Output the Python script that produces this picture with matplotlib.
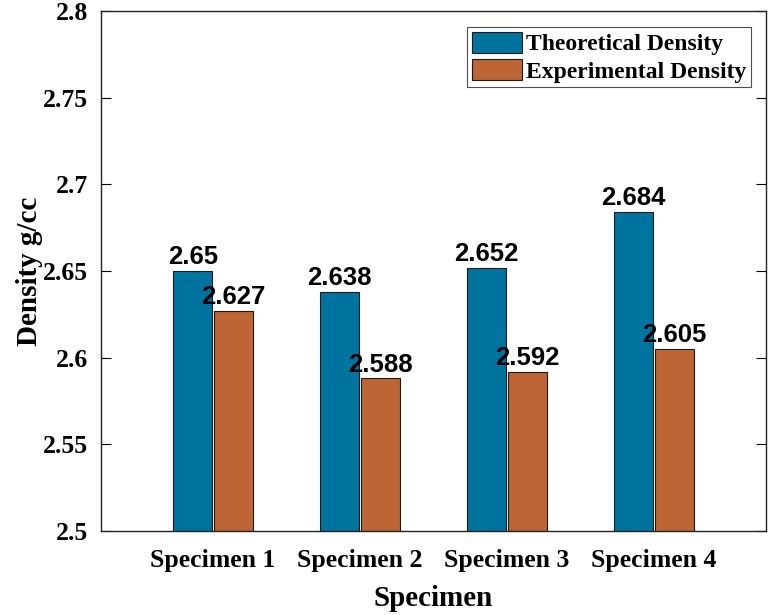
import matplotlib
matplotlib.use("Agg")
import matplotlib.pyplot as plt
import numpy as np

categories = ["Specimen 1", "Specimen 2", "Specimen 3", "Specimen 4"]
theoretical = [2.65, 2.638, 2.652, 2.684]
experimental = [2.627, 2.588, 2.592, 2.605]
series_names = ["Theoretical Density", "Experimental Density"]
y_ticks = [2.5, 2.55, 2.6, 2.65, 2.7, 2.75, 2.8]

blue = "#00739F"
orange = "#BE6535"
serif = ["Liberation Serif", "DejaVu Serif"]
sans = ["Liberation Sans", "DejaVu Sans"]

fig = plt.figure(figsize=(7.71, 6.15), dpi=100)
ax = fig.add_axes([101 / 771, (615 - 531) / 615, (766 - 101) / 771, (531 - 11) / 615])

x = np.arange(1, len(categories) + 1)
w = 0.265
off = 0.138
b1 = ax.bar(x - off, theoretical, w, color=blue, edgecolor="#1a1a1a", linewidth=0.8,
            label=series_names[0], zorder=2)
b2 = ax.bar(x + off, experimental, w, color=orange, edgecolor="#1a1a1a", linewidth=0.8,
            label=series_names[1], zorder=2)

for bars, vals in ((b1, theoretical), (b2, experimental)):
    for rect, v in zip(bars, vals):
        ax.text(rect.get_x() + rect.get_width() / 2, v + 0.001, f"{v:g}",
                ha="center", va="bottom", fontsize=18.5, fontweight="bold",
                family=sans, zorder=3)

ax.set_xlim(0.238, 4.762)
ax.set_ylim(2.5, 2.8)
ax.set_yticks(y_ticks)
ax.set_yticklabels([f"{t:g}" for t in y_ticks], family=serif, fontweight="bold", fontsize=18.5)
ax.set_xticks(x)
ax.set_xticklabels(categories, family=serif, fontweight="bold", fontsize=18.5)
ax.tick_params(axis="y", direction="in", length=7, width=0.8, pad=9, right=True)
ax.tick_params(axis="x", direction="in", length=0, pad=13)
for s in ax.spines.values():
    s.set_linewidth(1.0)
    s.set_color("#222222")

ax.set_xlabel("Specimen", family=serif, fontweight="bold", fontsize=21, labelpad=9)
ax.set_ylabel("Density g/cc", family=serif, fontweight="bold", fontsize=21, labelpad=0)

leg = ax.legend(loc="upper right", bbox_to_anchor=(1 - 15 / 665, 1 - 16 / 520),
                prop={"family": serif, "weight": "bold", "size": 17},
                frameon=True, fancybox=False, edgecolor="#222222", handlelength=2.15,
                handleheight=1.0, handletextpad=0.15, borderpad=0.2, labelspacing=0.15,
                borderaxespad=0)
leg.get_frame().set_linewidth(0.8)

fig.savefig("out.png", dpi=100)
